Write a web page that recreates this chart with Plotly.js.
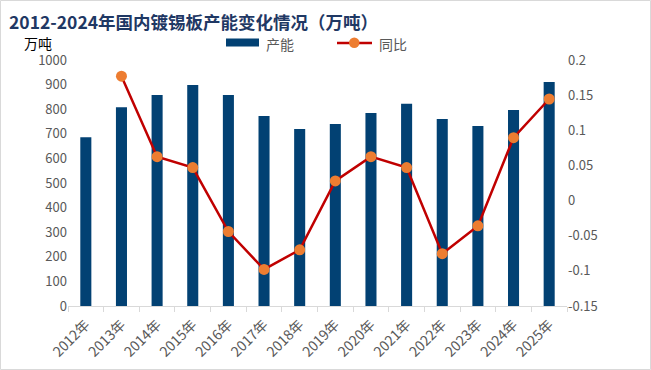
<!DOCTYPE html>
<html><head><meta charset="utf-8">
<script src="https://cdn.plot.ly/plotly-3.0.1.min.js"></script>
<style>html,body{margin:0;padding:0;background:#fff;}#chart{width:651px;height:370px;}</style>
</head><body><div id="chart"></div>
<script>
const categories = ["2012年","2013年","2014年","2015年","2016年","2017年","2018年","2019年","2020年","2021年","2022年","2023年","2024年","2025年"];
const capacity = [686, 808, 858, 898, 858, 772, 720, 740, 785, 822, 760, 732, 797, 911];
const yoy = [null, 0.177, 0.0625, 0.047, -0.044, -0.098, -0.070, 0.028, 0.0625, 0.047, -0.0755, -0.036, 0.0895, 0.1445];
const leftTicks = [0,100,200,300,400,500,600,700,800,900,1000];
const rightTickVals = [-0.15,-0.1,-0.05,0,0.05,0.1,0.15,0.2];
const rightTickText = ["-0.15","-0.1","-0.05","0","0.05","0.1","0.15","0.2"];

const W = 651, H = 370, L = 68, R = 84, T = 60, B = 64;
const pw = W - L - R, ph = H - T - B;
const px = x => (x - L) / pw;
const py = y => (H - B - y) / ph;
const FONT = '"Noto Sans CJK SC", "Noto Sans", sans-serif';
const GRAY = '#595959';

const traces = [
  {type:'bar', x:categories, y:capacity, name:'产能', marker:{color:'#024173'}, width:0.31, showlegend:false, yaxis:'y'},
  {type:'scatter', mode:'lines+markers', x:categories, y:yoy, name:'同比', yaxis:'y2', showlegend:false,
   line:{color:'#C00000', width:2.5}, marker:{color:'#ED7D31', size:11}, connectgaps:false}
];

const layout = {
  width:W, height:H, margin:{l:L, r:R, t:T, b:B}, paper_bgcolor:'#fff', plot_bgcolor:'#fff',
  font:{family:FONT, size:13, color:GRAY},
  bargap:0.69,
  xaxis:{type:'category', tickangle:-45, showline:true, linecolor:'#D9D9D9', linewidth:1,
    ticks:'outside', tickson:'boundaries', ticklen:5, tickcolor:'#D9D9D9', showgrid:false,
    ticklabelstandoff:4,
    tickfont:{family:FONT, size:14, color:GRAY}, range:[-0.5,13.5]},
  yaxis:{range:[0,1000], tickvals:leftTicks, showgrid:false, zeroline:false, showline:false,
    tickfont:{family:FONT, size:13, color:GRAY}, ticklen:0, ticks:'', fixedrange:true},
  yaxis2:{overlaying:'y', side:'right', range:[-0.15,0.2], tickvals:rightTickVals, ticktext:rightTickText,
    showgrid:false, zeroline:false, showline:false, tickfont:{family:FONT, size:13, color:GRAY}, ticks:''},
  shapes:[
    {type:'rect', xref:'paper', yref:'paper', x0:px(0.5), x1:px(650.5), y0:py(369.5), y1:py(0.5), line:{color:'#D9D9D9', width:1}, fillcolor:'rgba(0,0,0,0)'},
    {type:'rect', xref:'paper', yref:'paper', x0:px(226), x1:px(259), y0:py(46.5), y1:py(38.5), line:{width:0}, fillcolor:'#024173'},
    {type:'line', xref:'paper', yref:'paper', x0:px(337), x1:px(372), y0:py(43), y1:py(43), line:{color:'#C00000', width:2.5}},
    {type:'circle', xref:'paper', yref:'paper', x0:px(349), x1:px(359.5), y0:py(48), y1:py(37.5), line:{width:0}, fillcolor:'#ED7D31'}
  ],
  annotations:[
    {xref:'paper', yref:'paper', x:px(7), y:py(21), xanchor:'left', yanchor:'middle', showarrow:false,
     text:'<b>2012-2024年国内镀锡板产能变化情况（万吨）</b>', font:{family:FONT, size:17.5, color:'#1F3864'}},
    {xref:'paper', yref:'paper', x:px(22), y:py(43), xanchor:'left', yanchor:'middle', showarrow:false,
     text:'万吨', font:{family:FONT, size:14, color:'#000'}},
    {xref:'paper', yref:'paper', x:px(264), y:py(44), xanchor:'left', yanchor:'middle', showarrow:false,
     text:'产能', font:{family:FONT, size:14, color:GRAY}},
    {xref:'paper', yref:'paper', x:px(377), y:py(44), xanchor:'left', yanchor:'middle', showarrow:false,
     text:'同比', font:{family:FONT, size:14, color:GRAY}}
  ]
};
Plotly.newPlot('chart', traces, layout, {staticPlot:true, displayModeBar:false});
</script></body></html>
